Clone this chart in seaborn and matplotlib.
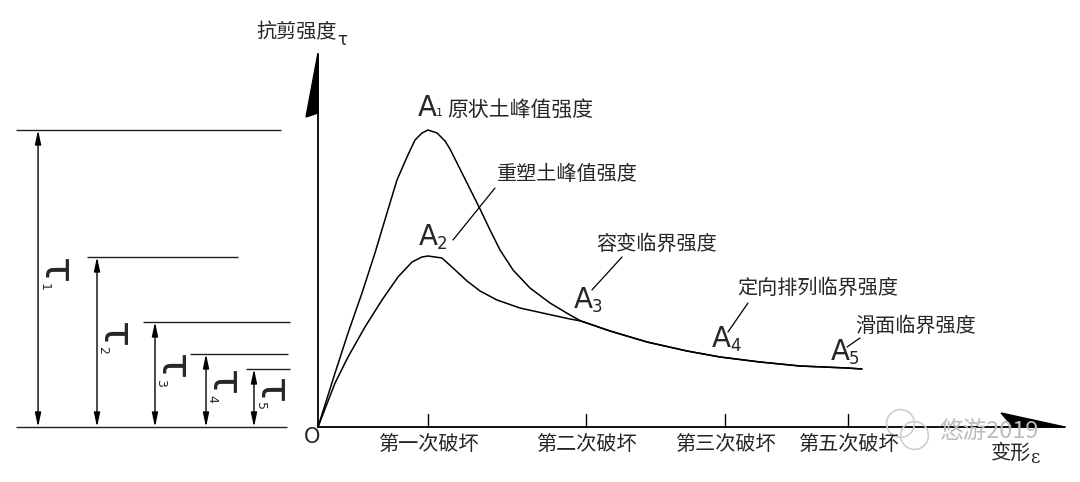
import numpy as np
import pandas as pd
import matplotlib
matplotlib.use('Agg')
import matplotlib.pyplot as plt
import seaborn as sns
from matplotlib.patches import Polygon

# 数据: 变形(横轴) 与 抗剪强度(纵轴)
# 原状土曲线 (A1 峰值)
orig_x = [0, 0.155, 0.273, 0.40, 0.518, 0.627, 0.718, 0.809, 0.882, 0.945, 1.0,
          1.082, 1.155, 1.20, 1.291, 1.382, 1.473, 1.564, 1.655, 1.773, 1.927,
          2.109, 2.291, 2.39]
orig_y = [0, 0.54, 0.94, 1.34, 1.74, 2.14, 2.47, 2.70, 2.87, 2.94, 2.97,
          2.94, 2.86, 2.78, 2.58, 2.38, 2.18, 1.97, 1.77, 1.57, 1.39,
          1.24, 1.12, 1.06]
# 重塑土曲线 (A2 峰值)
remold_x = [0, 0.155, 0.273, 0.427, 0.582, 0.727, 0.855, 0.945, 1.0, 1.127,
            1.227, 1.355, 1.473, 1.627, 1.836, 2.082, 2.291, 2.39]
remold_y = [0, 0.44, 0.70, 1.00, 1.27, 1.50, 1.65, 1.70, 1.71, 1.69,
            1.59, 1.46, 1.36, 1.27, 1.19, 1.13, 1.08, 1.06]
# A3 之后两条曲线重合
tail_x = [2.39, 2.655, 2.991, 3.355, 3.655, 4.018, 4.382, 4.809, 4.945]
tail_y = [1.06, 0.96, 0.85, 0.76, 0.70, 0.65, 0.61, 0.59, 0.58]

# 各阶段强度 tau1..tau5
tau_levels = [2.97, 1.70, 1.05, 0.73, 0.58]
tau_names = ['1', '2', '3', '4', '5']

# 横轴刻度 (破坏次数)
fail_x = [1.0, 2.436, 3.70, 4.82]
fail_labels = ['第一次破坏', '第二次破坏', '第三次破坏', '第五次破坏']

df = pd.DataFrame({
    '变形': orig_x + tail_x[1:] + remold_x + tail_x[1:],
    '强度': orig_y + tail_y[1:] + remold_y + tail_y[1:],
    '曲线': ['原状土'] * (len(orig_x) + len(tail_x) - 1)
          + ['重塑土'] * (len(remold_x) + len(tail_x) - 1),
})

sns.set_theme(style='white')
plt.rcParams['font.family'] = ['Noto Sans CJK SC', 'DejaVu Sans']
narrow = ['Liberation Sans Narrow', 'DejaVu Sans']

fig = plt.figure(figsize=(10.8, 4.82), dpi=100)
ax = fig.add_axes([0, 0, 1, 1])

sns.lineplot(data=df, x='变形', y='强度', units='曲线', estimator=None,
             sort=False, color='black', lw=1.1, ax=ax, legend=False)

ax.set_xlim(-318 / 110, 762 / 110)
ax.set_ylim(-0.55, 4.27)
ax.set_axis_off()

# 坐标轴与箭头
ax.plot([0, 0], [0, 3.72], color='black', lw=1.3)
ax.plot([0, 6.79], [0, 0], color='black', lw=1.3)
ax.add_patch(Polygon([(0, 3.74), (-0.109, 3.10), (0, 3.14)], closed=True,
                     color='black'))
ax.add_patch(Polygon([(6.21, 0.14), (6.32, 0), (6.79, 0)], closed=True,
                     color='black'))
for fx, lab in zip(fail_x, fail_labels):
    ax.plot([fx, fx], [0, 0.13], color='black', lw=1.0)
    ax.text(fx, -0.18, lab, ha='center', va='center', fontsize=14.5)

ax.text(-0.055, -0.10, 'O', ha='center', va='center', fontsize=15,
        family=narrow)
ax.text(-0.19, 3.94, '抗剪强度', ha='center', va='center', fontsize=14.5)
ax.text(0.225, 3.87, 'τ', ha='center', va='center', fontsize=12,
        family='DejaVu Sans')
ax.text(6.30, -0.26, '变形', ha='center', va='center', fontsize=14.5)
ax.text(6.52, -0.31, 'ε', ha='center', va='center', fontsize=13,
        family='DejaVu Serif')

# 左侧强度标注
h_left = [-2.745, -2.10, -1.591, -1.164, -0.655]
h_right = [-0.336, -0.727, -0.255, -0.273, -0.255]
arrow_x = [-2.545, -2.009, -1.482, -1.018, -0.582]
ax.hlines(tau_levels, h_left, h_right, color='#222222', lw=1.0)
ax.hlines(0, -2.745, -0.282, color='#222222', lw=1.0)
for xa, lvl, nm in zip(arrow_x, tau_levels, tau_names):
    ax.annotate('', xy=(xa, lvl), xytext=(xa, 0),
                arrowprops=dict(arrowstyle='<|-|>,head_length=0.7,head_width=0.15',
                                color='black', lw=1.0, shrinkA=0, shrinkB=0))
    mid = lvl / 2
    ax.text(xa + 0.15, mid + 0.07, 'τ', rotation=-90, ha='center',
            va='center', fontsize=31, family='DejaVu Sans')
    ax.text(xa + 0.055, mid - 0.08, nm, rotation=-90, ha='center',
            va='center', fontsize=9, family='DejaVu Sans')

# 曲线上的标注 A1..A5
a_pos = [(0.995, 3.19), (1.0, 1.90), (2.409, 1.27), (3.664, 0.88), (4.745, 0.75)]
for (ax_, ay_), nm in zip(a_pos, tau_names):
    ax.text(ax_, ay_, 'A', ha='center', va='center', fontsize=20,
            family=narrow)
    if nm == '1':
        ax.text(ax_ + 0.105, ay_ - 0.05, nm, ha='center', va='center',
                fontsize=8, family=narrow)
    else:
        ax.text(ax_ + 0.13, ay_ - 0.07, nm, ha='center', va='center',
                fontsize=12, family=narrow)

ax.text(1.84, 3.17, '原状土峰值强度', ha='center', va='center', fontsize=15)
ax.text(2.268, 2.52, '重塑土峰值强度', ha='center', va='center', fontsize=14.5)
ax.text(3.08, 1.83, '容变临界强度', ha='center', va='center', fontsize=14.5)
ax.text(4.545, 1.39, '定向排列临界强度', ha='center', va='center', fontsize=14.5)
ax.text(5.436, 1.01, '滑面临界强度', ha='center', va='center', fontsize=14.5)

leaders = [((1.227, 1.87), (1.609, 2.39)),
           ((2.49, 1.37), (2.764, 1.70)),
           ((3.727, 0.95), (3.909, 1.24)),
           ((4.809, 0.80), (4.927, 0.89))]
for (x0, y0), (x1, y1) in leaders:
    ax.plot([x0, x1], [y0, y1], color='black', lw=0.9)

# 水印
ax.plot([5.29, 5.42], [0.04, -0.08], 'o', ms=20, mfc='none', mec='#cfcfcf',
        mew=1.2)
ax.text(6.1, -0.04, '悠游2019', ha='center', va='center', fontsize=17,
        color='#bdbdbd')

plt.savefig('out.png', dpi=100)
